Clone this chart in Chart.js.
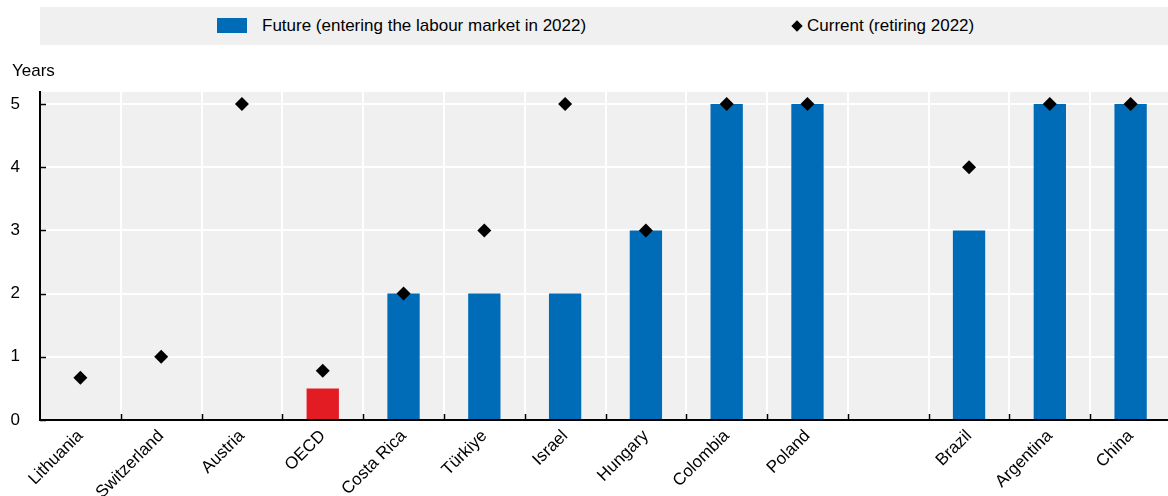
<!DOCTYPE html>
<html>
<head>
<meta charset="utf-8">
<script src="https://cdn.jsdelivr.net/npm/chart.js@4"></script>
<style>
  body { margin: 0; background: #fff; font-family: "Liberation Sans", Arial, sans-serif; }
  #wrap { position: relative; width: 1168px; height: 496px; overflow: hidden; }
  #legend { position: absolute; left: 40px; top: 7px; width: 1128px; height: 38px; background: #f0f0f0; font-size: 17px; color: #000; }
  #legend .item { position: absolute; top: 9px; line-height: 20px; white-space: nowrap; }
  #legend .box { display: inline-block; width: 30px; height: 15px; background: #006bb6; vertical-align: -2px; margin-right: 15px; }
  #legend .dia { display: inline-block; width: 8px; height: 8px; background: #000; transform: rotate(45deg); margin: 0 6px 1px 2px; }
  #ylab { position: absolute; left: 12px; top: 61px; font-size: 17px; }
</style>
</head>
<body>
<div id="wrap">
  <canvas id="c" width="1171" height="496"></canvas>
  <div id="legend">
    <div class="item" style="left:177px"><span class="box"></span>Future (entering the labour market in 2022)</div>
    <div class="item" style="left:751px"><span class="dia"></span>Current (retiring 2022)</div>
  </div>
  <div id="ylab">Years</div>
</div>
<script>
// categories (blank slot separates OECD members from partners)
var countries = ['Lithuania', 'Switzerland', 'Austria', 'OECD', 'Costa Rica', 'Türkiye', 'Israel',
                 'Hungary', 'Colombia', 'Poland', '', 'Brazil', 'Argentina', 'China'];
var future  = [0, 0, 0, 0.5, 2, 2, 2, 3, 5, 5, null, 3, 5, 5];
var current = [0.67, 1, 5, 0.78, 2, 3, 5, 3, 5, 5, null, 4, 5, 5];
var yTicks  = [0, 1, 2, 3, 4, 5];

var barColors = countries.map(function(c) { return c === 'OECD' ? '#e31b23' : '#006bb6'; });

// grey plot background + small inward tick marks
var plotDeco = {
    id: 'plotDeco',
    beforeDraw: function(chart) {
        var a = chart.chartArea, ctx = chart.ctx;
        ctx.save();
        ctx.fillStyle = '#f0f0f0';
        ctx.fillRect(a.left, a.top, a.right - a.left, a.bottom - a.top);
        ctx.restore();
    },
    afterDatasetsDraw: function(chart) {
        var a = chart.chartArea, ctx = chart.ctx;
        var x = chart.scales.x, y = chart.scales.y;
        ctx.save();
        ctx.strokeStyle = '#000';
        ctx.lineWidth = 1.5;
        ctx.beginPath();
        yTicks.forEach(function(v) {
            var py = Math.round(y.getPixelForValue(v)) + 0.5;
            ctx.moveTo(a.left, py); ctx.lineTo(a.left + 6, py);
        });
        for (var i = 1; i < countries.length; i++) {
            var px = Math.round((x.getPixelForValue(i - 1) + x.getPixelForValue(i)) / 2) + 0.5;
            ctx.moveTo(px, a.bottom); ctx.lineTo(px, a.bottom - 6);
        }
        ctx.stroke();
        ctx.restore();
    }
};

var ctx = document.getElementById('c').getContext('2d');
var chart = new Chart(ctx, {
    type: 'bar',
    data: {
        labels: countries,
        datasets: [{
            type: 'line',
            label: 'Current (retiring 2022)',
            data: current,
            showLine: false,
            pointStyle: 'rectRot',
            pointRadius: 7,
            pointBackgroundColor: '#000',
            pointBorderColor: '#000',
            pointBorderWidth: 0,
            clip: false,
            order: 0
        }, {
            label: 'Future (entering the labour market in 2022)',
            data: future,
            backgroundColor: barColors,
            barPercentage: 0.4,
            categoryPercentage: 1,
            order: 1
        }]
    },
    options: {
        responsive: false,
        animation: false,
        layout: { autoPadding: false, padding: { top: 92, right: 0, left: 0, bottom: 0 } },
        plugins: { legend: { display: false }, tooltip: { enabled: false } },
        scales: {
            x: {
                grid: { color: '#fff', lineWidth: 2, drawTicks: false, offset: true },
                border: { color: '#000', width: 2 },
                ticks: {
                    color: '#000',
                    font: { family: 'Liberation Sans', size: 17 },
                    maxRotation: 45, minRotation: 45,
                    autoSkip: false,
                    padding: 6
                },
                afterFit: function(s) { s.height = 76; s.paddingLeft = 0; s.paddingRight = 0; }
            },
            y: {
                min: 0, max: 5.19,
                afterBuildTicks: function(s) { s.ticks = yTicks.map(function(v) { return { value: v }; }); },
                grid: { color: '#fff', lineWidth: 2, drawTicks: false },
                border: { color: '#000', width: 2 },
                ticks: {
                    color: '#000',
                    font: { family: 'Liberation Sans', size: 17 },
                    padding: 20
                },
                afterFit: function(s) { s.width = 40; }
            }
        }
    },
    plugins: [plotDeco]
});
</script>
</body>
</html>
